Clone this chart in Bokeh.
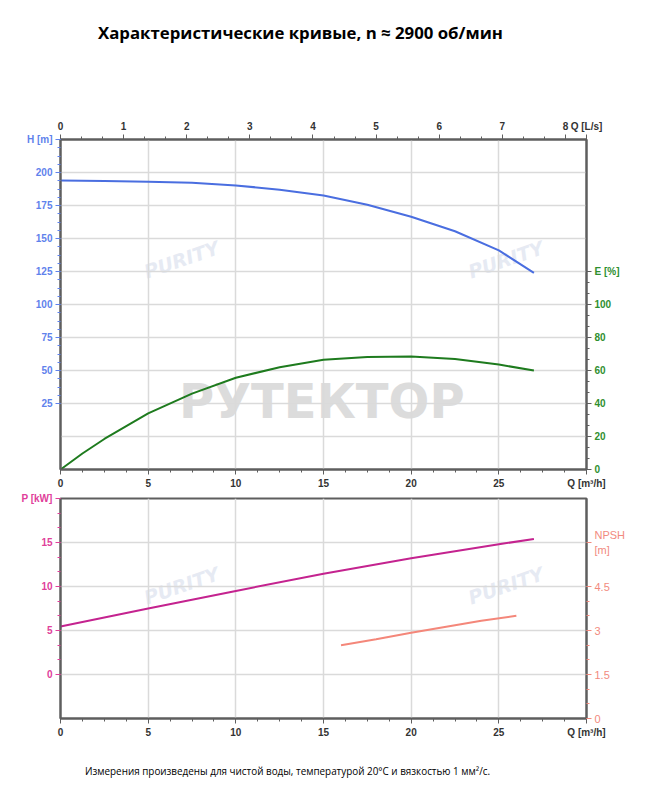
from bokeh.plotting import figure
from bokeh.models import Range1d, LinearAxis, FixedTicker, Div
from bokeh.layouts import column
from bokeh.embed import file_html
from bokeh.resources import INLINE
from bokeh.core.properties import value

# ---------------- data ----------------
Q_H = [0, 2.5, 5, 7.5, 10, 12.5, 15, 17.5, 20, 22.5, 25, 27]
H = [194, 193.6, 193, 192.2, 190.2, 187, 182.5, 175.5, 166.5, 155.5, 141, 124]
Q_E = [0, 1.25, 2.5, 5, 7.5, 10, 12.5, 15, 17.5, 20, 22.5, 25, 27]
E = [0, 9.7, 18.5, 34, 46, 55.6, 62, 66.5, 68.2, 68.5, 67, 63.6, 60]
Q_P = [0, 5, 10, 15, 20, 25, 27]
P = [5.45, 7.5, 9.5, 11.45, 13.2, 14.8, 15.4]
Q_NPSH = [16, 18, 20, 22, 24, 26]
NPSH = [2.5, 2.7, 2.92, 3.13, 3.33, 3.5]

Q_TICKS = [0, 5, 10, 15, 20, 25]
QLS_TICKS = [0, 1, 2, 3, 4, 5, 6, 7, 8]
H_TICKS = [25, 50, 75, 100, 125, 150, 175, 200]
E_TICKS = [0, 20, 40, 60, 80, 100]
P_TICKS = [0, 5, 10, 15]
NPSH_TICKS = [0, 1.5, 3, 4.5]

TITLE = "Характеристические кривые, n ≈ 2900 об/мин"
FOOT = "Измерения произведены для чистой воды, температурой 20°C и вязкостью 1 мм²/с."

Q_MAX = 30
QLS_END = Q_MAX / 3.6

C_H, C_HL = "#4a6ee0", "#5f82ec"
C_E, C_EL = "#1e7b1e", "#2f8f2f"
C_P, C_PL = "#c4238f", "#e0409a"
C_N, C_NL = "#f4877a", "#f28a7e"
AX = "#5e5e5e"
LAB = "#333333"
GRID = "#dadada"


def style_axis(ax, ticks, minor, labcol, tickcol, overrides):
    ax.ticker = FixedTicker(ticks=ticks, minor_ticks=minor)
    ax.major_label_overrides = overrides
    ax.axis_line_color = AX
    ax.axis_line_width = 2
    ax.major_tick_line_color = tickcol
    ax.minor_tick_line_color = tickcol
    ax.major_tick_out = 5
    ax.major_tick_in = 0
    ax.minor_tick_out = 3
    ax.minor_tick_in = 0
    ax.major_label_text_color = labcol
    ax.major_label_text_font = "Liberation Sans"
    ax.major_label_text_font_size = "10px"
    ax.major_label_text_font_style = "bold"
    ax.major_label_standoff = 3


def watermark(p, x, y):
    p.text(x=[x], y=[y], text=["PURITY"], angle=0.33, text_font=value("DejaVu Sans"),
           text_font_style="bold italic", text_font_size="19px", text_color="#e6eaf3",
           text_align="center", text_baseline="middle", level="underlay")


# ---------------- top figure ----------------
p1 = figure(width=630, height=383, x_range=Range1d(0, Q_MAX), y_range=Range1d(-25, 225),
            output_backend="svg", toolbar_location=None, min_border_left=52,
            min_border_right=52, min_border_top=31, min_border_bottom=22)
p1.extra_y_ranges = {"E": Range1d(0, 200)}
p1.extra_x_ranges = {"ls": Range1d(0, QLS_END)}
p1.outline_line_color = AX
p1.outline_line_width = 2

style_axis(p1.xaxis[0], Q_TICKS + [Q_MAX], [i * 1.25 for i in range(25)], LAB, AX,
           {Q_MAX: "Q [m³/h]"})
style_axis(p1.yaxis[0], H_TICKS + [225], [25 + i * 6.25 for i in range(33)], C_HL, C_HL,
           {225: "H [m]"})
ax_top = LinearAxis(x_range_name="ls")
style_axis(ax_top, QLS_TICKS + [QLS_END], [i / 3 for i in range(26)], LAB, AX,
           {QLS_END: "Q [L/s]"})
p1.add_layout(ax_top, "above")
ax_e = LinearAxis(y_range_name="E")
style_axis(ax_e, E_TICKS + [120], [i * 20 / 3 for i in range(19)], C_EL, AX, {120: "E [%]"})
p1.add_layout(ax_e, "right")

p1.xgrid.ticker = FixedTicker(ticks=Q_TICKS)
p1.ygrid.ticker = FixedTicker(ticks=[0] + H_TICKS)
for g in (p1.xgrid, p1.ygrid):
    g.grid_line_color = GRID
    g.grid_line_width = 1.5

p1.text(x=[14.9], y=[27], text=["РУТЕКТОР"], text_font=value("DejaVu Sans"),
        text_font_style="bold", text_font_size="48px", text_color="#dcdcdc",
        text_align="center", text_baseline="middle", level="underlay")
watermark(p1, 6.9, 134)
watermark(p1, 25.4, 134)

p1.line(Q_H, H, line_color=C_H, line_width=2)
p1.line(Q_E, E, line_color=C_E, line_width=2, y_range_name="E")

# ---------------- bottom figure ----------------
p2 = figure(width=630, height=259, x_range=Range1d(0, Q_MAX), y_range=Range1d(-5, 20),
            output_backend="svg", toolbar_location=None, min_border_left=52,
            min_border_right=52, min_border_top=7, min_border_bottom=32)
p2.extra_y_ranges = {"N": Range1d(0, 7.5)}
p2.outline_line_color = AX
p2.outline_line_width = 2

style_axis(p2.xaxis[0], Q_TICKS + [Q_MAX], [i * 1.25 for i in range(25)], LAB, AX,
           {Q_MAX: "Q [m³/h]"})
style_axis(p2.yaxis[0], P_TICKS + [20], [i * 5 / 3 for i in range(13)], C_PL, C_PL,
           {20: "P [kW]"})
ax_n = LinearAxis(y_range_name="N")
style_axis(ax_n, NPSH_TICKS + [6], [i * 0.5 for i in range(10)], C_NL, C_NL,
           {6: "NPSH\n[m]"})
ax_n.major_label_text_font_style = "normal"
ax_n.major_label_text_font_size = "11px"
p2.add_layout(ax_n, "right")

p2.xgrid.ticker = FixedTicker(ticks=Q_TICKS)
p2.ygrid.ticker = FixedTicker(ticks=P_TICKS)
for g in (p2.xgrid, p2.ygrid):
    g.grid_line_color = GRID
    g.grid_line_width = 1.5

watermark(p2, 6.9, 10.1)
watermark(p2, 25.4, 10.1)

p2.line(Q_P, P, line_color=C_P, line_width=2)
p2.line(Q_NPSH, NPSH, line_color=C_N, line_width=2, y_range_name="N")

# ---------------- texts ----------------
title = Div(text='<div style="font-family:\'Open Sans\';font-weight:bold;font-size:16.8px;'
                 'white-space:nowrap;padding-left:90px;padding-top:14px;line-height:22px;'
                 f'color:#000;">{TITLE}</div>', width=630, height=100, margin=0)
foot = Div(text='<div style="font-family:\'Open Sans\';font-size:9.9px;white-space:nowrap;'
                'padding-left:77px;padding-top:14px;line-height:14px;'
                f'color:#000;">{FOOT}</div>', width=630, height=40, margin=0)

layout = column(title, p1, p2, foot, spacing=0, margin=(8, 0, 0, 8))
open("out.html", "w").write(file_html(layout, INLINE))
